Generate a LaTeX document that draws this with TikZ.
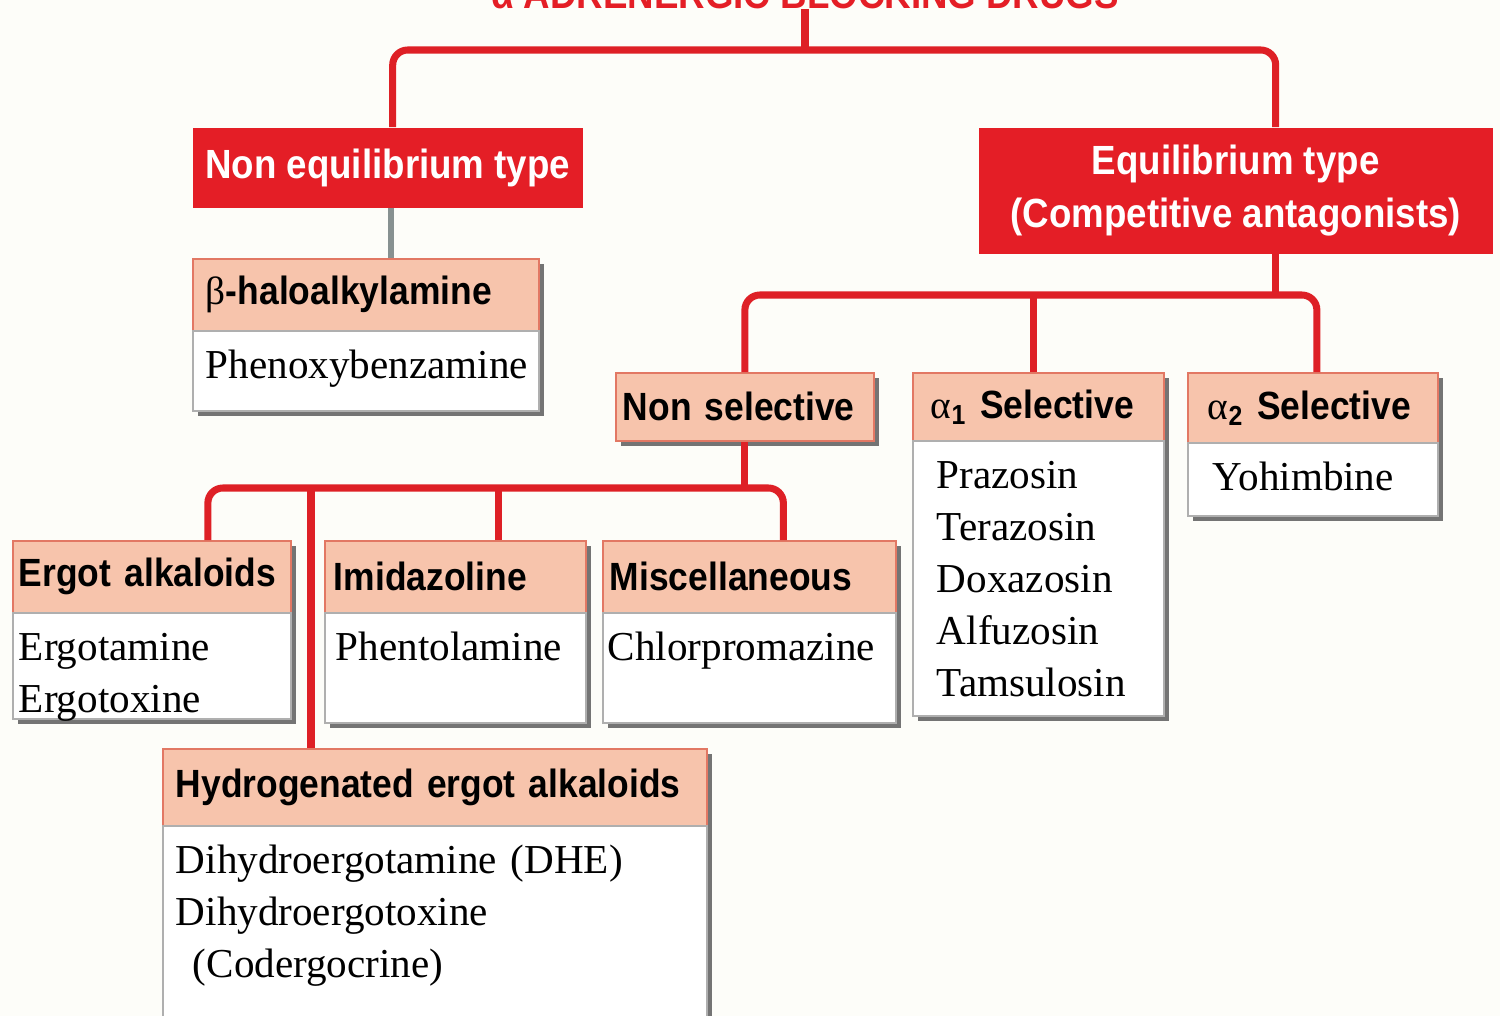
\documentclass[tikz,border=0pt]{standalone}
\usepackage{fontspec}
\setmainfont{Liberation Serif}
\setsansfont[FakeStretch=0.9]{Liberation Sans}
\usetikzlibrary{shadows}

\definecolor{boxred}{RGB}{228,30,38}
\definecolor{linkred}{RGB}{222,32,38}
\definecolor{headfill}{RGB}{247,196,172}
\definecolor{headline}{RGB}{226,120,100}
\definecolor{bodyline}{RGB}{175,175,175}
\definecolor{stemgray}{RGB}{135,145,145}
\definecolor{paper}{RGB}{253,253,249}

\newcommand{\hdfont}{\sffamily\bfseries\fontsize{11.6}{15}\selectfont}
\newcommand{\subfont}{\sffamily\bfseries\fontsize{11.2}{14}\selectfont}
\newcommand{\drugfont}{\rmfamily\mdseries\fontsize{11.7}{14.75}\selectfont}
\newcommand{\grk}[1]{{\rmfamily\mdseries #1}}

\tikzset{
  boxshadow/.style={drop shadow={shadow xshift=0.05cm, shadow yshift=-0.05cm, fill=black!60, opacity=0.9}},
  redbox/.style={fill=boxred, text=white, font=\hdfont, anchor=north west, inner sep=0pt},
  head/.style={fill=headfill, draw=headline, line width=0.5pt, font=\subfont,
    anchor=north west, align=left, inner ysep=0pt, boxshadow},
  body/.style={fill=white, draw=bodyline, line width=0.5pt, font=\drugfont,
    anchor=north west, align=left, inner ysep=0.12cm, text height=0.36cm, boxshadow},
  link/.style={draw=linkred, line width=2pt, rounded corners=0.15cm},
}

\begin{document}
\begin{tikzpicture}
    \useasboundingbox (0,0) rectangle (15,-10.16);
    \fill[paper] (0,0) rectangle (15,-10.16);

    % titulo (cortado no topo)
    \node[font=\hdfont, text=boxred, anchor=base, inner sep=0pt] (title) at (8.05,-0.08) {α ADRENERGIC BLOCKING DRUGS};

    % primeiro nivel
    \node[redbox, minimum width=3.90cm, minimum height=0.80cm] (nonEq) at (1.92,-1.27) {Non equilibrium type};
    \node[redbox, align=center, minimum width=5.14cm, minimum height=1.26cm] (eq) at (9.78,-1.27)
        {Equilibrium type\\(Competitive antagonists)};

    % beta-haloalkylamine
    \node[head, inner xsep=0.13cm, text width=3.20cm, minimum height=0.72cm] (haloH) at (1.92,-2.58) {\grk{β}-haloalkylamine};
    \node[body, inner xsep=0.13cm, text width=3.20cm, text depth=0.20cm] (haloB) at (1.92,-3.30) {Phenoxybenzamine};

    % segundo nivel
    \node[head, inner xsep=0.07cm, text width=2.44cm, minimum height=0.68cm] (nonSel) at (6.15,-3.72) {Non selective};
    \node[head, inner xsep=0.18cm, text width=2.15cm, minimum height=0.68cm] (a1H) at (9.12,-3.72) {\grk{α}\textsubscript{1} Selective};
    \node[body, inner xsep=0.24cm, text width=2.03cm, text depth=2.15cm] (a1B) at (9.12,-4.40)
        {Prazosin\\Terazosin\\Doxazosin\\Alfuzosin\\Tamsulosin};
    \node[head, inner xsep=0.20cm, text width=2.10cm, minimum height=0.70cm] (a2H) at (11.87,-3.72) {\grk{α}\textsubscript{2} Selective};
    \node[body, inner xsep=0.25cm, text width=2.00cm, text depth=0.13cm] (a2B) at (11.87,-4.42) {Yohimbine};

    % nao seletivos
    \node[head, inner xsep=0.06cm, text width=2.66cm, minimum height=0.72cm] (ergH) at (0.12,-5.40) {Ergot alkaloids};
    \node[body, inner xsep=0.06cm, text width=2.66cm, text depth=0.46cm] (ergB) at (0.12,-6.12) {Ergotamine\\Ergotoxine};
    \node[head, inner xsep=0.09cm, text width=2.43cm, minimum height=0.72cm] (imiH) at (3.24,-5.40) {Imidazoline};
    \node[body, inner xsep=0.11cm, text width=2.39cm, text depth=0.50cm] (imiB) at (3.24,-6.12) {Phentolamine};
    \node[head, inner xsep=0.07cm, text width=2.79cm, minimum height=0.72cm] (misH) at (6.02,-5.40) {Miscellaneous};
    \node[body, inner xsep=0.05cm, text width=2.83cm, text depth=0.50cm] (misB) at (6.02,-6.12) {Chlorpromazine};
    \node[head, inner xsep=0.13cm, text width=5.18cm, minimum height=0.77cm] (hydH) at (1.62,-7.48) {Hydrogenated ergot alkaloids};
    \node[body, inner xsep=0.13cm, text width=5.18cm, text depth=1.40cm] (hydB) at (1.62,-8.25)
        {Dihydroergotamine (DHE)\\Dihydroergotoxine\\\hspace*{0.17cm}(Codergocrine)};

    % ligacoes
    \coordinate (topbar) at (title.south |- 0,-0.50);
    \coordinate (midbar) at ([xshift=0.40cm]eq.south |- 0,-2.95);
    \coordinate (lowbar) at (nonSel.south |- 0,-4.88);

    \draw[link] (title.south) -- (topbar);
    \draw[link] ([xshift=0.05cm]nonEq.north) |- (topbar) -| ([xshift=0.40cm]eq.north);
    \draw[stemgray, line width=1.6pt] ([xshift=0.03cm]nonEq.south) -- ([xshift=0.03cm]nonEq.south |- haloH.north);

    \draw[link] ([xshift=0.40cm]eq.south) -- (midbar);
    \draw[link] (nonSel.north) |- (midbar) -| ([xshift=0.04cm]a2H.north);
    \draw[link] ([xshift=-0.05cm]a1H.north) -- ([xshift=-0.05cm]a1H.north |- midbar);

    \draw[link] (nonSel.south) -- (lowbar);
    \draw[link] ([xshift=0.56cm]ergH.north) |- (lowbar) -| ([xshift=0.34cm]misH.north);
    \draw[link] ([xshift=0.43cm]imiH.north) -- ([xshift=0.43cm]imiH.north |- lowbar);
    \draw[link] ([xshift=1.49cm]hydH.north west |- lowbar) -- ([xshift=1.49cm]hydH.north west);
\end{tikzpicture}
\end{document}
